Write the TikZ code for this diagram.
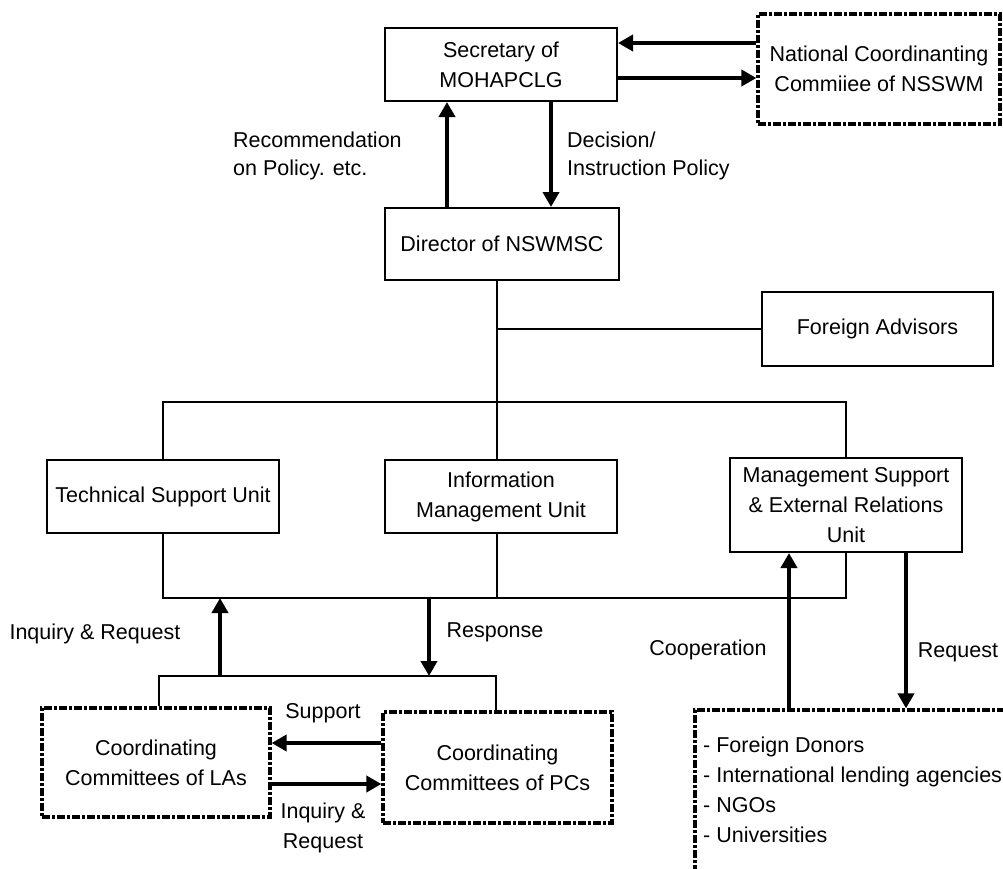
\documentclass[tikz,border=0pt]{standalone}
\usepackage{fontspec}
\setmainfont{Liberation Sans}
\usetikzlibrary{arrows.meta}
\tikzset{
  box/.style={draw, line width=2pt, inner sep=0pt, align=center},
  dbox/.style={draw, line width=3.2pt, dash pattern=on 8pt off 2pt on 3pt off 2pt, inner sep=0pt, align=center},
  wire/.style={line width=2pt},
  arr/.style={line width=4pt, -{Triangle[length=15pt,width=16pt]}},
  lbl/.style={inner sep=0pt, align=center},
}
\begin{document}
\begin{tikzpicture}[x=1pt,y=-1pt,font=\fontsize{21.5}{30}\selectfont]
\clip (0,0) rectangle (1003,868);
\fill[white] (0,0) rectangle (1003,868);
% boxes
\node[box, minimum width=232pt, minimum height=73pt] (sec) at (501,64.5) {Secretary of\\MOHAPCLG};
\node[dbox, minimum width=242pt, minimum height=110pt] (nat) at (879,69) {National Coordinanting\\Commiiee of NSSWM};
\node[box, minimum width=234pt, minimum height=72pt] (dir) at (502,244) {Director of NSWMSC};
\node[box, minimum width=231pt, minimum height=74pt] (fa) at (877.5,329) {Foreign Advisors};
\node[box, minimum width=232pt, minimum height=73pt] (tsu) at (163,496.5) {Technical Support Unit};
\node[box, minimum width=232pt, minimum height=73pt] (imu) at (501,496.5) {Information\\Management Unit};
\node[box, minimum width=232pt, minimum height=94pt] (msu) at (846,505) {Management Support\\\& External Relations\\Unit};
\node[dbox, minimum width=228pt, minimum height=109pt] (las) at (156,762.5) {Coordinating\\Committees of LAs};
\node[dbox, minimum width=229pt, minimum height=111pt] (pcs) at (497.5,767.5) {Coordinating\\Committees of PCs};
\node[dbox, minimum width=310pt, minimum height=170pt] (ext) at (850,795) {};
\node[lbl, anchor=west, align=left] (extl) at (703,790) {- Foreign Donors\\- International lending agencies\\- NGOs\\- Universities};
% helper coordinates
\coordinate (t) at (497,0);
\coordinate (yA) at (0,43);
\coordinate (yB) at (0,78);
\coordinate (xU) at (447,0);
\coordinate (xD) at (551,0);
\coordinate (bus) at (0,402);
\coordinate (lbus) at (0,598);
\coordinate (lbL) at (159,676);
\coordinate (lbR) at (496,676);
\coordinate (xIq) at (220,676);
\coordinate (xRs) at (429,598);
\coordinate (yS) at (0,743);
\coordinate (yI) at (0,784);
\coordinate (xC) at (789,0);
\coordinate (xR) at (906,0);
% top arrows
\draw[arr] (nat.west |- yA) -- (sec.east |- yA);
\draw[arr] (sec.east |- yB) -- (nat.west |- yB);
\draw[arr] (dir.north -| xU) -- (sec.south -| xU);
\draw[arr] (sec.south -| xD) -- (dir.north -| xD);
% tree
\draw[wire] (dir.south -| t) -- (imu.north -| t);
\draw[wire] (imu.south -| t) -- (t |- lbus);
\draw[wire] (t |- fa.west) -- (fa.west);
\draw[wire] (tsu.north) -- (tsu.north |- bus) -- (msu.north |- bus) -- (msu.north);
\draw[wire] (tsu.south) -- (tsu.south |- lbus) -- (msu.south |- lbus) -- (msu.south);
% lower bracket
\draw[wire] (las.north -| lbL) -- (lbL) -- (lbR) -- (pcs.north -| lbR);
\draw[arr] (xIq) -- (xIq |- lbus);
\draw[arr] (xRs) -- (xRs |- lbL);
\draw[arr] (pcs.west |- yS) -- (las.east |- yS);
\draw[arr] (las.east |- yI) -- (pcs.west |- yI);
% external
\draw[arr] (ext.north -| xC) -- (msu.south -| xC);
\draw[arr] (msu.south -| xR) -- (ext.north -| xR);
% labels
\node[lbl, anchor=west, align=left, font=\fontsize{21.5}{28.5}\selectfont] (rec) at (233,156) {Recommendation\\on Policy. etc.};
\node[lbl, anchor=west, align=left, font=\fontsize{21.5}{28.5}\selectfont] (dec) at (567,156) {Decision/\\Instruction Policy};
\node[lbl] (iqr) at (95,634) {Inquiry \& Request};
\node[lbl] (rsp) at (495,632) {Response};
\node[lbl] (sup) at (323,713) {Support};
\node[lbl] (iqr2) at (323,828) {Inquiry \&\\Request};
\node[lbl] (coop) at (708,650) {Cooperation};
\node[lbl] (req) at (958,652) {Request};
\end{tikzpicture}
\end{document}
